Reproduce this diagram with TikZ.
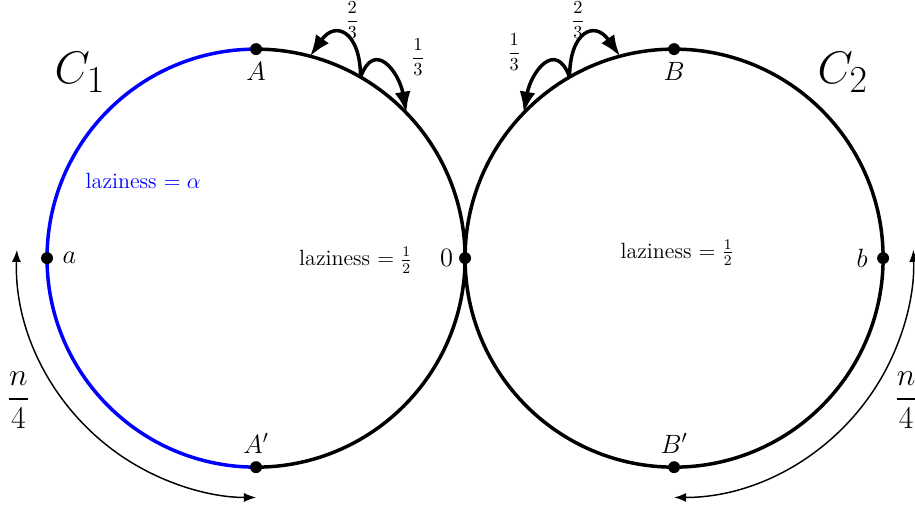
\documentclass[tikz,border=0pt]{standalone}
\usepackage{amsmath, amssymb}
\usetikzlibrary{arrows.meta, positioning, calc}

\begin{document}
\begin{tikzpicture}[>=Latex, line width=1.9pt,
        dot/.style={circle, fill=black, inner sep=0pt, minimum size=6.5pt},
        ptlabel/.style={font=\Large},
        lenarrow/.style={<->, thick}]
        \useasboundingbox (-8.90,-4.82) rectangle (8.61,4.94);
        % Centres of the two cycles
        \coordinate (O1) at (-4,0);
        \coordinate (O2) at (4,0);
        % Cycle C1 (left half is lazy)
        \draw [blue] ($(O1)+(90:4)$) arc [start angle=90, end angle=270, radius=4];
        \draw ($(O1)+(-90:4)$) arc [start angle=-90, end angle=90, radius=4];
        % Cycle C2
        \draw (O2) circle [radius=4];
        % Marked vertices
        \node [dot, label={[ptlabel, label distance=-1pt]below:$A$}] (A) at ($(O1)+(90:4)$) {};
        \node [dot, label={[ptlabel]right:$a$}] (a) at ($(O1)+(180:4)$) {};
        \node [dot, label={[ptlabel, label distance=-1pt]above:$A'$}] (Ap) at ($(O1)+(270:4)$) {};
        \node [dot, label={[ptlabel, label distance=-2pt]left:$0$}] (zero) at (0,0) {};
        \node [dot, label={[ptlabel, label distance=-1pt]below:$B$}] (B) at ($(O2)+(90:4)$) {};
        \node [dot, label={[ptlabel]left:$b$}] (b) at ($(O2)+(0:4)$) {};
        \node [dot, label={[ptlabel, label distance=-1pt]above:$B'$}] (Bp) at ($(O2)+(270:4)$) {};
        % Names and laziness
        \node [font=\Huge] (C1) at (-7.37,3.56) {$C_1$};
        \node [font=\Huge] (C2) at (7.23,3.56) {$C_2$};
        \node [blue, font=\large] (lazyL) at (-6.16,1.47) {laziness $=\alpha$};
        \node [font=\large] (halfL) at (-2.09,-0.04) {laziness $=\frac{1}{2}$};
        \node [font=\large] (halfR) at (4.06,0.1) {laziness $=\frac{1}{2}$};
        % Transition loops
        \coordinate (s1) at ($(O1)+(60:4)$);
        \coordinate (e1) at ($(O1)+(75:4)$);
        \coordinate (f1) at ($(O1)+(44:4)$);
        \draw [->] (s1) to [out=90, in=55, looseness=2.1] (e1);
        \draw [->] (s1) to [out=70, in=100, looseness=1.8] (f1);
        \node (pL2) at (-2.16,4.56) {$\dfrac{2}{3}$};
        \node (pL1) at (-0.90,3.85) {$\dfrac{1}{3}$};
        \coordinate (s2) at ($(O2)+(120:4)$);
        \coordinate (e2) at ($(O2)+(105:4)$);
        \coordinate (f2) at ($(O2)+(136:4)$);
        \draw [->] (s2) to [out=90, in=125, looseness=2.1] (e2);
        \draw [->] (s2) to [out=110, in=80, looseness=1.8] (f2);
        \node (pR2) at (2.16,4.56) {$\dfrac{2}{3}$};
        \node (pR1) at (0.94,3.94) {$\dfrac{1}{3}$};
        % Quarter lengths
        \draw [lenarrow] ($(O1)+(178:4.58)$) arc [start angle=178, end angle=270, radius=4.58];
        \draw [lenarrow] ($(O2)+(270:4.58)$) arc [start angle=270, end angle=362, radius=4.58];
        \node [font=\LARGE] (qL) at (-8.55,-2.72) {$\dfrac{n}{4}$};
        \node [font=\LARGE] (qR) at (8.44,-2.72) {$\dfrac{n}{4}$};
\end{tikzpicture}
\end{document}
